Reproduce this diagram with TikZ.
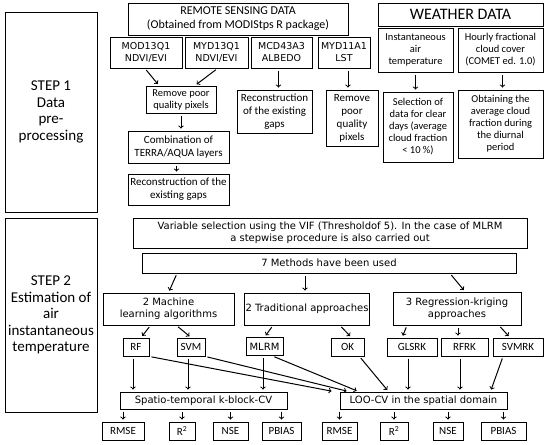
\documentclass[tikz,border=0pt]{standalone}
\usepackage{fontspec}
\setmainfont{Carlito}
\newfontfamily\dejavu{DejaVu Sans}

\begin{document}
\begin{tikzpicture}[x=1pt, y=-1pt, line width=1pt,
    box/.style={draw, align=center, inner sep=1pt, font=\fontsize{11}{13}\selectfont},
    dvbox/.style={box, font=\dejavu\fontsize{10}{12}\selectfont},
    stepbox/.style={box, font=\fontsize{15}{16.5}\selectfont},
    arr/.style={->, shorten >=2pt, shorten <=2pt}]
    \useasboundingbox (0,0) rectangle (550,445);

    \node[stepbox, minimum width=92, minimum height=200] (step1) at (51,112) {STEP 1\\Data\\pre-\\processing};
    \node[stepbox, minimum width=92, minimum height=194] (step2) at (51,315) {STEP 2\\Estimation of\\air\\instantaneous\\temperature};

    \node[box, minimum width=220, minimum height=32, font=\fontsize{12}{14}\selectfont] (remote) at (238,19) {REMOTE SENSING DATA\\(Obtained from MODIStps R package)};
    \node[box, minimum width=72, minimum height=31, font=\dejavu\fontsize{9.5}{12}\selectfont] (mod) at (146,52.5) {MOD13Q1\\NDVI/EVI};
    \node[box, minimum width=63, minimum height=31, font=\dejavu\fontsize{9.5}{12}\selectfont] (myd) at (216.5,52.5) {MYD13Q1\\NDVI/EVI};
    \node[box, minimum width=61, minimum height=31, font=\dejavu\fontsize{9.5}{12}\selectfont] (mcd) at (281.5,52.5) {MCD43A3\\ALBEDO};
    \node[box, minimum width=52, minimum height=31, font=\dejavu\fontsize{9.5}{12}\selectfont] (lst) at (344,52.5) {MYD11A1\\LST};
    \node[box, minimum width=165, minimum height=23, font=\fontsize{16}{18}\selectfont] (weather) at (460.5,14.5) {WEATHER DATA};
    \node[box, minimum width=75, minimum height=44, font=\fontsize{10.5}{12}\selectfont] (inst) at (415.5,50) {Instantaneous\\air\\temperature};
    \node[box, minimum width=85, minimum height=44, font=\fontsize{10.5}{12}\selectfont] (hourly) at (500.5,50) {Hourly fractional\\cloud cover\\(COMET ed. 1.0)};

    \node[box, minimum width=70, minimum height=27, font=\fontsize{10.5}{12}\selectfont] (rem1) at (181,99.5) {Remove poor\\quality pixels};
    \node[box, minimum width=101, minimum height=32] (comb) at (178.5,147) {Combination of\\TERRA/AQUA layers};
    \node[box, minimum width=101, minimum height=31] (rec1) at (178.5,189.5) {Reconstruction of the\\existing gaps};
    \node[box, minimum width=75, minimum height=43] (rec2) at (274.5,111.5) {Reconstruction\\of the existing\\gaps};
    \node[box, minimum width=52, minimum height=56] (rem2) at (352,118) {Remove\\poor\\quality\\pixels};
    \node[box, minimum width=70, minimum height=70, font=\fontsize{10.5}{12}\selectfont] (sel) at (418,127) {Selection of\\data for clear\\days (average\\cloud fraction\\\textless{} 10 \%)};
    \node[box, minimum width=85, minimum height=68, font=\fontsize{10.5}{12}\selectfont] (obt) at (500.5,124) {Obtaining the\\average cloud\\fraction during\\the diurnal\\period};

    \draw[arr] ([xshift=-1]mod.south) -- ([xshift=-22]rem1.north);
    \draw[arr] ([xshift=1]myd.south) -- ([xshift=14]rem1.north);
    \draw[arr] (rem1.south) -- (rem1.south |- comb.north);
    \draw[arr] ([xshift=-2]comb.south) -- ([xshift=-2]rec1.north);
    \draw[arr] ([xshift=-3]mcd.south) -- ([xshift=-3]mcd.south |- rec2.north);
    \draw[arr] ([xshift=4]lst.south) -- ([xshift=4]lst.south |- rem2.north);
    \draw[arr] (inst.south) -- (inst.south |- sel.north);
    \draw[arr] ([xshift=2]hourly.south) -- ([xshift=2]hourly.south |- obt.north);

    \node[dvbox, minimum width=394, minimum height=30] (vif) at (330,233) {Variable selection using the VIF (Thresholdof 5). In the case of MLRM\\a stepwise procedure is also carried out};
    \node[dvbox, minimum width=374, minimum height=20] (methods) at (329,263) {7 Methods have been used};
    \node[dvbox, minimum width=131, minimum height=32] (machine) at (168.5,309) {2 Machine\\learning algorithms};
    \node[dvbox, minimum width=120, minimum height=32] (trad) at (307,309) {2 Traditional approaches};
    \node[dvbox, minimum width=128, minimum height=33] (reg) at (457,308.5) {3 Regression-kriging\\approaches};

    \node[box, minimum width=26, minimum height=18] (rf) at (136,347) {RF};
    \node[box, minimum width=28, minimum height=18] (svm) at (191,347) {SVM};
    \node[dvbox, minimum width=37, minimum height=18] (mlrm) at (264.5,346.5) {MLRM};
    \node[box, minimum width=33, minimum height=18] (ok) at (347.5,347) {OK};
    \node[box, minimum width=50, minimum height=18] (glsrk) at (412,347) {GLSRK};
    \node[box, minimum width=47, minimum height=18] (rfrk) at (464.5,347) {RFRK};
    \node[box, minimum width=50, minimum height=18] (svmrk) at (518,347) {SVMRK};

    \node[dvbox, minimum width=167, minimum height=17] (spatio) at (203.5,400.5) {Spatio-temporal k-block-CV};
    \node[dvbox, minimum width=167, minimum height=17] (loo) at (423.5,400.5) {LOO-CV in the spatial domain};

    \node[box, minimum width=42, minimum height=18] (rmsea) at (123,431) {RMSE};
    \node[box, minimum width=26, minimum height=18] (rsqa) at (182,431) {R\textsuperscript{2}};
    \node[box, minimum width=35, minimum height=18] (nsea) at (230.5,431) {NSE};
    \node[box, minimum width=39, minimum height=18] (pbiasa) at (281.5,431) {PBIAS};
    \node[box, minimum width=35, minimum height=18] (rmseb) at (339.5,431) {RMSE};
    \node[box, minimum width=28, minimum height=18] (rsqb) at (394,431) {R\textsuperscript{2}};
    \node[box, minimum width=30, minimum height=18] (nseb) at (448,431) {NSE};
    \node[box, minimum width=45, minimum height=18] (pbiasb) at (503.5,431) {PBIAS};

    \draw[arr] ([xshift=-152]methods.south) -- (machine.north);
    \draw[arr] ([xshift=-24]methods.south) -- ([xshift=-24]methods.south |- trad.north);
    \draw[arr] ([xshift=121]methods.south) -- ([xshift=8]reg.north);
    \draw[arr] ([xshift=-18]machine.south) -- ([xshift=5]rf.north);
    \draw[arr] ([xshift=8]machine.south) -- (svm.north);
    \draw[arr] ([xshift=-34]trad.south) -- (mlrm.north);
    \draw[arr] ([xshift=33]trad.south) -- ([xshift=4]ok.north);
    \draw[arr] ([xshift=-50]reg.south) -- ([xshift=-10]glsrk.north);
    \draw[arr] ([xshift=1]reg.south) -- ([xshift=1]reg.south |- rfrk.north);
    \draw[arr] ([xshift=42]reg.south) -- ([xshift=-8]svmrk.north);

    \draw[arr] ([xshift=-3]rf.south) -- ([xshift=-3]rf.south |- spatio.north);
    \draw[arr] ([xshift=-3]svm.south) -- ([xshift=-3]svm.south |- spatio.north);
    \draw[arr] ([xshift=-1.5]mlrm.south) -- ([xshift=-1.5]mlrm.south |- spatio.north);
    \draw[arr] (rf.south east) -- ([xshift=-90]loo.north);
    \draw[arr] (svm.south east) -- ([xshift=-75]loo.north);
    \draw[arr] ([xshift=-11]mlrm.south east) -- ([xshift=-65]loo.north);
    \draw[arr] ([xshift=-5]ok.south east) -- ([xshift=-35]loo.north);
    \draw[arr] ([xshift=-4]glsrk.south) -- ([xshift=-4]glsrk.south |- loo.north);
    \draw[arr] ([xshift=-4.5]rfrk.south) -- ([xshift=-4.5]rfrk.south |- loo.north);
    \draw[arr] ([xshift=-15]svmrk.south) -- ([xshift=67]loo.north);

    \draw[arr] (rmsea.north |- spatio.south) -- (rmsea.north);
    \draw[arr] (rsqa.north |- spatio.south) -- (rsqa.north);
    \draw[arr] (nsea.north |- spatio.south) -- (nsea.north);
    \draw[arr] (pbiasa.north |- spatio.south) -- (pbiasa.north);
    \draw[arr] (rmseb.north |- loo.south) -- (rmseb.north);
    \draw[arr] (rsqb.north |- loo.south) -- (rsqb.north);
    \draw[arr] (nseb.north |- loo.south) -- (nseb.north);
    \draw[arr] (pbiasb.north |- loo.south) -- (pbiasb.north);
\end{tikzpicture}
\end{document}
